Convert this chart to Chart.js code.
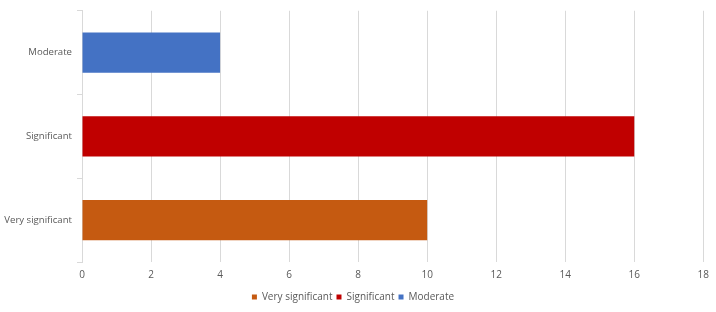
<!DOCTYPE html>
<html><head><meta charset="utf-8">
<script src="https://cdn.jsdelivr.net/npm/chart.js@4"></script>
<style>html,body{margin:0;padding:0;background:#fff}#w{width:716px;height:312px}</style>
</head><body><div id="w"><canvas id="c"></canvas></div>
<script>
const categories = ['Moderate', 'Significant', 'Very significant'];
const values = [4, 16, 10];
const colors = ['#4472C4', '#C00000', '#C55A11'];
const xTicks = [0, 2, 4, 6, 8, 10, 12, 14, 16, 18];

const legendOrder = [2, 1, 0];
const datasets = legendOrder.map(i => ({
  label: categories[i],
  data: categories.map((_, j) => j === i ? values[i] : null),
  backgroundColor: colors[i],
  borderWidth: 0,
  categoryPercentage: 1,
  barPercentage: 0.48
}));

new Chart(document.getElementById('c'), {
  type: 'bar',
  data: { labels: categories, datasets },
  options: {
    indexAxis: 'y',
    responsive: true,
    maintainAspectRatio: false,
    animation: false,
    layout: { padding: { top: 8, right: 10, left: 0, bottom: 0 } },
    scales: {
      x: {
        stacked: true,
        min: 0, max: 18,
        afterBuildTicks: s => { s.ticks = xTicks.map(v => ({ value: v })); },
        grid: { color: '#d9d9d9', drawTicks: false },
        border: { display: false },
        ticks: { color: '#595959', font: { family: 'Open Sans', size: 10 }, padding: 7 }
      },
      y: {
        stacked: true,
        afterFit: s => { s.width = 82; },
        grid: { drawOnChartArea: false, drawTicks: true, tickLength: 5, offset: true, color: '#d9d9d9' },
        border: { display: true, color: '#d9d9d9' },
        ticks: { color: '#595959', font: { family: 'Open Sans', size: 9.6 }, padding: 5 }
      }
    },
    plugins: {
      legend: {
        position: 'bottom',
        labels: { color: '#595959', font: { family: 'Open Sans', size: 10 }, usePointStyle: true, pointStyle: 'rect', boxWidth: 5, boxHeight: 5, padding: 4 }
      },
      tooltip: { enabled: false }
    }
  }
});
</script></body></html>
